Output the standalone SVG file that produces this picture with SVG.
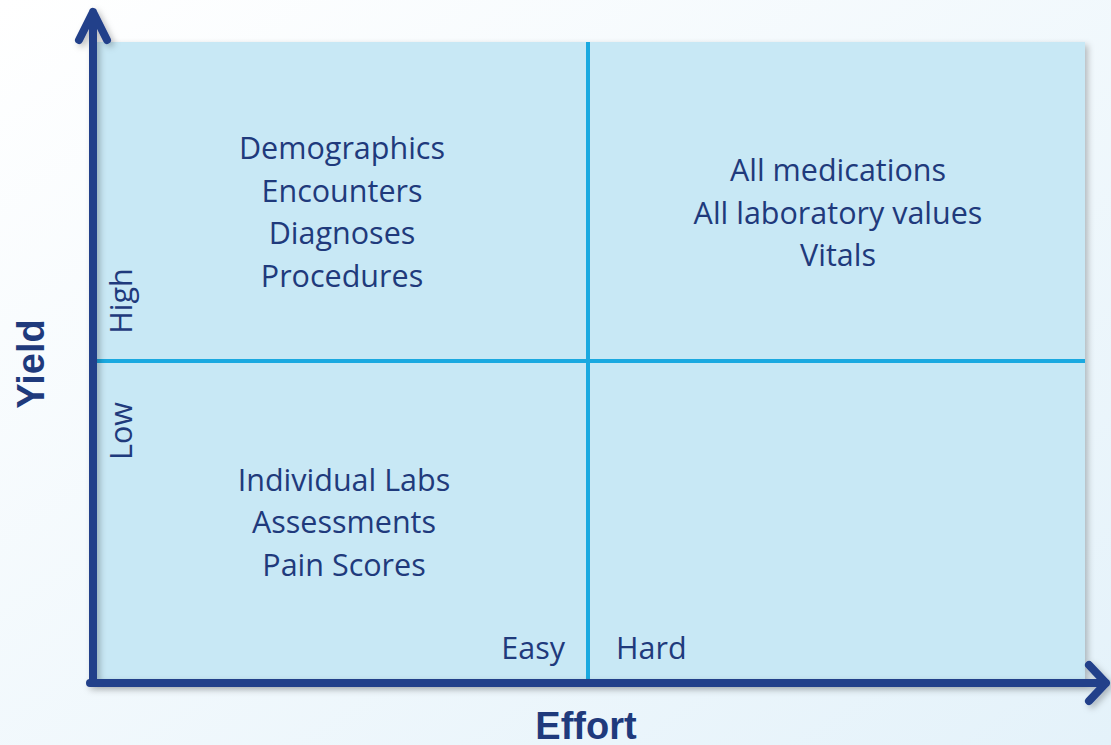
<svg xmlns="http://www.w3.org/2000/svg" width="1111" height="745" viewBox="0 0 1111 745">
<defs>
<linearGradient id="bg" x1="0" y1="0" x2="1" y2="1">
<stop offset="0" stop-color="#ffffff"/>
<stop offset="1" stop-color="#e4f2fa"/>
</linearGradient>
<filter id="sh" x="-5%" y="-5%" width="110%" height="110%">
<feDropShadow dx="3" dy="3" stdDeviation="3" flood-color="#000" flood-opacity="0.25"/>
</filter>
<style>
.t{font-family:"Open Sans",Lato,sans-serif;font-size:30.5px;fill:#1f3a7c;text-anchor:middle}
.ax{font-family:"Liberation Sans",Arial,sans-serif;font-weight:bold;font-size:38px;fill:#1f3a7c;text-anchor:middle}
.axis{stroke:#213f8a;stroke-width:8;fill:none;stroke-linecap:round;stroke-linejoin:round}
.div{stroke:#1aa9e0;stroke-width:4}
</style>
</defs>
<rect width="1111" height="745" fill="url(#bg)"/>
<g id="chart">
<rect x="94" y="42" width="991" height="640" fill="#c8e8f5" filter="url(#sh)"/>
</g>
<g id="dividers">
<line class="div" x1="588" y1="42" x2="588" y2="682"/>
<line class="div" x1="94" y1="361" x2="1085" y2="361"/>
</g>
<g id="axes" filter="url(#sh)">
<path class="axis" d="M93 683 V12 M79 40 L93 12 L107 40"/>
<path class="axis" d="M90 683 H1106 M1089 665 L1106 683 L1089 701"/>
</g>
<g id="q-high-easy">
<text class="t" x="342" y="159">Demographics</text>
<text class="t" x="342" y="202">Encounters</text>
<text class="t" x="342" y="244">Diagnoses</text>
<text class="t" x="342" y="287">Procedures</text>
</g>
<g id="q-high-hard">
<text class="t" x="838" y="181">All medications</text>
<text class="t" x="838" y="224">All laboratory values</text>
<text class="t" x="838" y="266">Vitals</text>
</g>
<g id="q-low-easy">
<text class="t" x="344" y="491">Individual Labs</text>
<text class="t" x="344" y="533">Assessments</text>
<text class="t" x="344" y="576">Pain Scores</text>
</g>
<g id="labels">
<text class="t" x="565" y="659" style="text-anchor:end">Easy</text>
<text class="t" x="616" y="659" style="text-anchor:start">Hard</text>
<text class="t" transform="translate(132 301) rotate(-90)">High</text>
<text class="t" transform="translate(132 431) rotate(-90)">Low</text>
<text class="ax" x="586" y="739">Effort</text>
<text class="ax" transform="translate(44 364) rotate(-90)">Yield</text>
</g>
</svg>
